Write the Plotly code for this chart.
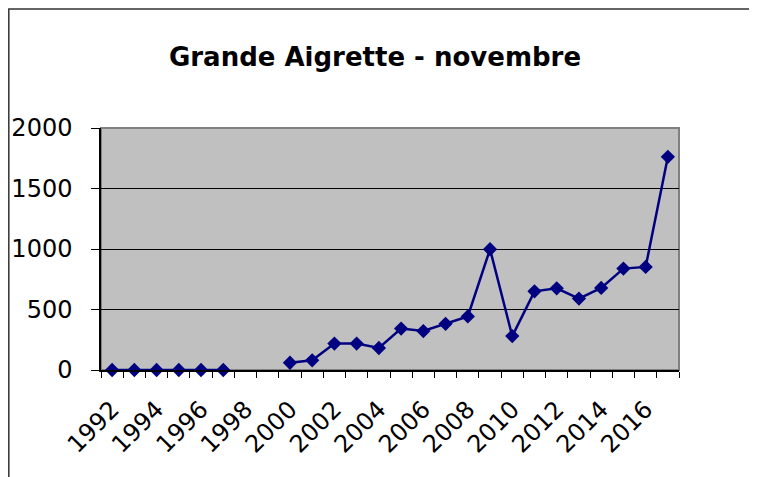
import plotly.graph_objects as go

years = list(range(1992, 2018))
counts = [0, 0, 0, 0, 0, 0, None, None,
          60, 80, 218, 218, 182, 342, 322, 382, 443, 998, 280,
          650, 675, 590, 678, 838, 852, 1762]
tick_years = list(range(1992, 2017, 2))
tick_labels = [str(y) for y in tick_years]
y_ticks = [0, 500, 1000, 1500, 2000]
title_text = "Grande Aigrette - novembre"

fig = go.Figure()
fig.add_trace(go.Scatter(
    x=years, y=counts, mode="lines+markers",
    line=dict(color="#000080", width=2.5),
    marker=dict(symbol="diamond", size=11, color="#000080"),
    connectgaps=False, showlegend=False, cliponaxis=False,
))

font = "DejaVu Sans, sans-serif"
# page has an 8px body margin, so the figure starts at (8, 8)
fig.update_layout(
    width=749, height=469,
    margin=dict(l=93, r=78, t=120, b=107, autoexpand=False),
    paper_bgcolor="white", plot_bgcolor="#C0C0C0",
    title=dict(text="<b>" + title_text + "</b>", x=0.49, xanchor="center",
               y=0.895, yanchor="middle",
               font=dict(family=font, size=26, color="black")),
    xaxis=dict(range=[1991.5, 2017.5], tickvals=tick_years, ticktext=tick_labels,
               tickangle=-45, ticks="", showgrid=False, zeroline=False,
               ticklabelstandoff=14, automargin=False,
               tickfont=dict(family=font, size=24, color="black"),
               showline=True, linecolor="black", linewidth=1.5,
               minor=dict(tick0=1991.5, dtick=1, ticks="outside", ticklen=6,
                          tickcolor="black", tickwidth=1, showgrid=False)),
    yaxis=dict(range=[0, 2000], tickvals=y_ticks, ticks="outside", ticklen=8,
               tickcolor="black", showgrid=True, gridcolor="black", gridwidth=1,
               zeroline=False, showline=True, linecolor="black", linewidth=1.5,
               ticklabelstandoff=14, automargin=False,
               tickfont=dict(family=font, size=24, color="black")),
)
# plot-area border (gray)
fig.add_shape(type="rect", xref="paper", yref="paper", x0=0, y0=0, x1=1, y1=1,
              line=dict(color="#808080", width=2), layer="below")
# chart outer border
fig.add_shape(type="rect", xref="paper", yref="paper", x0=-0.1595, y0=-3, x1=3, y1=1.492,
              line=dict(color="#333333", width=1.5))
fig.write_html("out.html")
